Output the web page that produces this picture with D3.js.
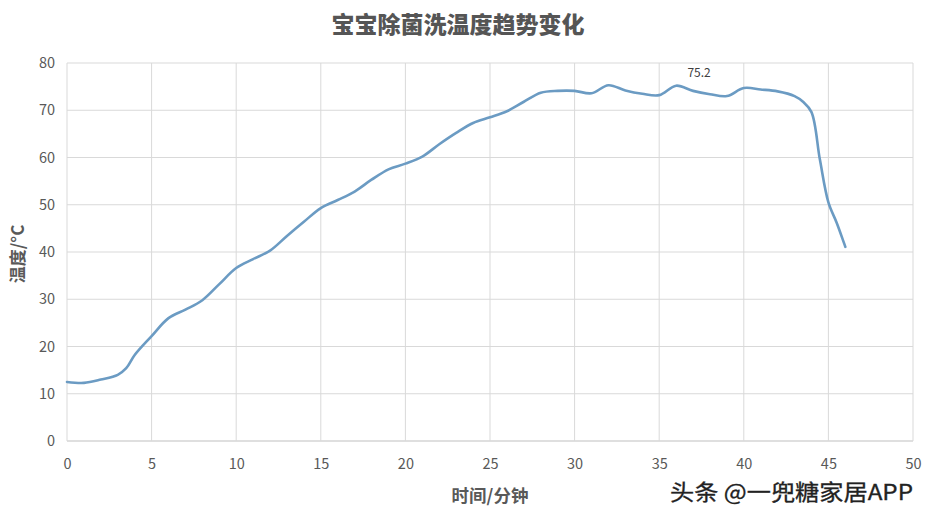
<!DOCTYPE html>
<html><head><meta charset="utf-8">
<script src="https://cdn.jsdelivr.net/npm/d3@7"></script>
<style>body{margin:0;background:#fff}svg{display:block}</style>
</head><body>
<script>
const timeMin = [0,1,2,3,3.5,4,5,6,7,8,9,10,11,12,13,14,15,16,17,18,19,20,21,22,23,24,25,26,27,28,29,30,31,32,33,34,35,36,37,38,39,40,41,42,43,43.5,44,44.5,45,45.5,46];
const tempC   = [12.5,12.3,13.0,14.0,15.4,18.2,22.2,26.0,27.8,29.8,33.2,36.6,38.5,40.3,43.4,46.4,49.3,51.0,52.8,55.3,57.5,58.7,60.2,62.8,65.2,67.3,68.5,69.8,71.8,73.7,74.1,74.1,73.6,75.3,74.2,73.5,73.2,75.2,74.1,73.4,73.0,74.7,74.4,74.0,73.0,71.8,69.6,59.5,50.5,46.1,41.1];
const xTicks = [0,5,10,15,20,25,30,35,40,45,50];
const yTicks = [0,10,20,30,40,50,60,70,80];
const peakLabel = {t:36, v:75.2, text:"75.2"};
const title = "宝宝除菌洗温度趋势变化";
const xTitle = "时间/分钟";
const yTitle = "温度/°C";
const watermark = "头条 @一兜糖家居APP";

const W=930,H=518;
const svg=d3.select("body").append("svg").attr("width",W).attr("height",H);
const font="'Noto Sans CJK SC','Microsoft YaHei',sans-serif";
const x=d3.scaleLinear().domain([0,50]).range([67,913]);
const y=d3.scaleLinear().domain([0,80]).range([441,63]);

// grid
svg.append("g").selectAll("line").data(yTicks).join("line")
  .attr("x1",x(0)).attr("x2",x(50)).attr("y1",d=>y(d)).attr("y2",d=>y(d))
  .attr("stroke",d=>d===0?"#bfbfbf":"#d9d9d9").attr("stroke-width",1);
svg.append("g").selectAll("line").data(xTicks).join("line")
  .attr("y1",y(0)).attr("y2",y(80)).attr("x1",d=>x(d)).attr("x2",d=>x(d))
  .attr("stroke","#d9d9d9").attr("stroke-width",1);

// axes labels
const xa=svg.append("g").attr("transform",`translate(0,${y(0)})`)
  .call(d3.axisBottom(x).tickValues(xTicks).tickSize(0).tickPadding(18));
xa.select(".domain").remove();
xa.selectAll("text").attr("font-family",font).attr("font-size",14.5).attr("fill","#595959");
const ya=svg.append("g").attr("transform",`translate(${x(0)},0)`)
  .call(d3.axisLeft(y).tickValues(yTicks).tickSize(0).tickPadding(12));
ya.select(".domain").remove();
ya.selectAll("text").attr("font-family",font).attr("font-size",14.5).attr("fill","#595959");

// line
const data=timeMin.map((t,i)=>({t,v:tempC[i]}));
svg.append("path").datum(data)
  .attr("d",d3.line().x(d=>x(d.t)).y(d=>y(d.v)).curve(d3.curveCatmullRom.alpha(0.5)))
  .attr("fill","none").attr("stroke","#6b9bc3").attr("stroke-width",2.6)
  .attr("stroke-linejoin","round").attr("stroke-linecap","round");

// peak label
svg.append("text").attr("x",x(peakLabel.t)+23).attr("y",y(peakLabel.v)-9)
  .attr("text-anchor","middle").attr("font-family",font).attr("font-size",12)
  .attr("fill","#404040").text(peakLabel.text);

// titles
svg.append("text").attr("x",458).attr("y",33).attr("text-anchor","middle")
  .attr("font-family",font).attr("font-size",23).attr("font-weight","900")
  .attr("fill","#555").text(title);
svg.append("text").attr("x",490).attr("y",502).attr("text-anchor","middle")
  .attr("font-family",font).attr("font-size",17.5).attr("font-weight","bold")
  .attr("fill","#595959").text(xTitle);
svg.append("text").attr("transform","translate(24,254) rotate(-90)").attr("text-anchor","middle")
  .attr("font-family",font).attr("font-size",17).attr("font-weight","bold")
  .attr("fill","#595959").text(yTitle);

// watermark
svg.append("text").attr("x",670).attr("y",500)
  .attr("font-family",font).attr("font-size",22)
  .attr("textLength",243).attr("lengthAdjust","spacingAndGlyphs")
  .attr("fill","#222").attr("stroke","#222").attr("stroke-width",0.3).text(watermark);
</script>
</body></html>
